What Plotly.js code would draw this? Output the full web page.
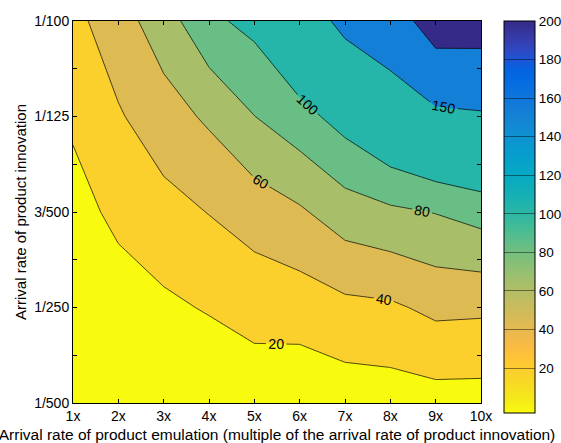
<!DOCTYPE html>
<html>
<head>
<meta charset="utf-8">
<script src="https://cdn.plot.ly/plotly-3.0.1.min.js"></script>
<style>html,body{margin:0;padding:0;background:#fff;}#chart{width:561px;height:443px;}</style>
</head>
<body>
<div id="chart"></div>
<script>
// ---- data ----
const xValues = [1, 2, 3, 4, 5, 6, 7, 8, 9, 10];
const xTickText = ['1x', '2x', '3x', '4x', '5x', '6x', '7x', '8x', '9x', '10x'];
const yValues = [0.002, 0.004, 0.006, 0.008, 0.01];
const yTickVals = [0.002, 0.003, 0.004, 0.005, 0.006, 0.007, 0.008, 0.009, 0.01];
const yTickText = ['1/500', '', '1/250', '', '3/500', '', '1/125', '', '1/100'];
// z rows follow yValues (bottom to top), columns follow xValues
const zRow0002 = [-3.0, -2.0, -0.6, 2.8, 7.7, 5.2, 8.8, 10.0, 12.0, 11.8];
const zRow0004 = [2.0, 10.9, 16.3, 21.6, 27.4, 29.3, 35.1, 36.9, 44.6, 43.6];
const zRow0006 = [13.0, 24.5, 33.2, 40.6, 49.0, 57.3, 70.5, 76.4, 80.7, 87.8];
const zRow0008 = [23.0, 38.0, 51.4, 63.2, 79.7, 92.7, 108.4, 126.4, 141.4, 145.5];
const zRow0010 = [34.2, 51.6, 70.5, 95.8, 105.7, 129.0, 159.4, 175.5, 223.4, 222.0];
const lowLevels = [20, 40, 60, 80, 100];
const highLevels = [150, 200];
const colorbarTicks = [20, 40, 60, 80, 100, 120, 140, 160, 180, 200];
const colorMin = -3.3, colorMax = 200;

const xTitle = 'Arrival rate of product emulation (multiple of the arrival rate of product innovation)';
const yTitle = 'Arrival rate of product innovation';

// ---- colormap (parula, 64 entries) ----
const parula = [
[0.2081,0.1663,0.5292],[0.2116,0.1898,0.5777],[0.2123,0.2138,0.6270],[0.2081,0.2386,0.6771],
[0.1959,0.2645,0.7279],[0.1707,0.2919,0.7792],[0.1253,0.3242,0.8303],[0.0591,0.3598,0.8683],
[0.0117,0.3875,0.8820],[0.0060,0.4086,0.8828],[0.0165,0.4266,0.8786],[0.0329,0.4430,0.8720],
[0.0498,0.4586,0.8641],[0.0629,0.4737,0.8554],[0.0723,0.4887,0.8467],[0.0779,0.5040,0.8384],
[0.0793,0.5200,0.8312],[0.0749,0.5375,0.8263],[0.0641,0.5570,0.8240],[0.0488,0.5772,0.8228],
[0.0343,0.5966,0.8199],[0.0265,0.6137,0.8135],[0.0239,0.6287,0.8038],[0.0231,0.6418,0.7913],
[0.0228,0.6535,0.7768],[0.0267,0.6642,0.7607],[0.0384,0.6743,0.7436],[0.0590,0.6838,0.7254],
[0.0843,0.6928,0.7062],[0.1133,0.7015,0.6859],[0.1453,0.7098,0.6646],[0.1801,0.7177,0.6424],
[0.2178,0.7250,0.6193],[0.2586,0.7317,0.5954],[0.3022,0.7376,0.5712],[0.3482,0.7424,0.5473],
[0.3953,0.7459,0.5244],[0.4420,0.7481,0.5033],[0.4871,0.7491,0.4840],[0.5300,0.7491,0.4661],
[0.5709,0.7485,0.4494],[0.6099,0.7473,0.4337],[0.6473,0.7456,0.4188],[0.6834,0.7435,0.4044],
[0.7184,0.7411,0.3905],[0.7525,0.7384,0.3768],[0.7858,0.7356,0.3633],[0.8185,0.7327,0.3498],
[0.8507,0.7299,0.3360],[0.8824,0.7274,0.3217],[0.9139,0.7258,0.3063],[0.9450,0.7261,0.2886],
[0.9739,0.7314,0.2666],[0.9938,0.7455,0.2403],[0.9990,0.7653,0.2164],[0.9955,0.7861,0.1967],
[0.9880,0.8066,0.1794],[0.9789,0.8271,0.1633],[0.9697,0.8481,0.1475],[0.9626,0.8705,0.1309],
[0.9589,0.8949,0.1132],[0.9598,0.9218,0.0948],[0.9661,0.9514,0.0755],[0.9763,0.9831,0.0538]];

function parulaAt(t) {
  t = Math.max(0, Math.min(1, t));
  const p = t * (parula.length - 1);
  const i = Math.min(parula.length - 2, Math.floor(p));
  const f = p - i;
  const c = parula[i].map((v, k) => v + (parula[i + 1][k] - v) * f);
  return 'rgb(' + c.map(v => Math.round(v * 255)).join(',') + ')';
}
// reversed parula: low values yellow, high values dark blue
function colorForValue(v) {
  return parulaAt(1 - (v - colorMin) / (colorMax - colorMin));
}

const zGrid = [zRow0002, zRow0004, zRow0006, zRow0008, zRow0010];

// fill colour of each band, taken from the colormap near its lower level
const bandShift = v => (v <= 20 ? -2 : 3);
const lowBandColors = [colorForValue(colorMin)].concat(lowLevels.map(v => colorForValue(v + bandShift(v))));
const lowScale = lowBandColors.map((c, k) => [k / (lowBandColors.length - 1), c]);
const highScale = [[0, 'rgba(255,255,255,0)']].concat(
  highLevels.map((v, k) => [(k + 1) / highLevels.length, colorForValue(v + bandShift(v))]));

// continuous colorbar scale
const cbScale = [];
for (let k = 0; k <= 40; k++) {
  const t = k / 40;
  cbScale.push([t, parulaAt(1 - t)]);
}

const FONT = 'Liberation Sans, Arial, Helvetica, sans-serif';
const lineStyle = {color: '#000', width: 0.7, smoothing: 0};

const flatX = [], flatY = [], flatZ = [];
zGrid.forEach((row, r) => row.forEach((v, c) => { flatX.push(xValues[c]); flatY.push(yValues[r]); flatZ.push(v); }));

const traces = [
  {
    type: 'scatter', mode: 'markers', x: flatX, y: flatY,
    marker: {
      color: flatZ, colorscale: cbScale, cmin: colorMin, cmax: colorMax, opacity: 0, size: 1,
      showscale: true,
      colorbar: {
        x: 1.057, xanchor: 'left', y: 1, yanchor: 'top',
        thickness: 31, thicknessmode: 'pixels', len: 392, lenmode: 'pixels',
        xpad: 0, ypad: 0, outlinewidth: 1, outlinecolor: '#000',
        tickvals: colorbarTicks, ticks: 'inside', ticklen: 31, tickwidth: 1,
        tickcolor: 'rgba(0,0,0,0.45)', tickfont: {family: FONT, size: 13.5, color: '#000'}
      }
    },
    hoverinfo: 'skip', showlegend: false
  },
  {
    type: 'contour', x: xValues, y: yValues, z: zGrid,
    autocontour: false,
    contours: {
      start: lowLevels[0], end: lowLevels[lowLevels.length - 1], size: lowLevels[1] - lowLevels[0],
      coloring: 'fill', showlines: true, showlabels: true,
      labelfont: {family: FONT, size: 14, color: '#000'}
    },
    colorscale: lowScale, showscale: false, line: lineStyle, hoverinfo: 'skip'
  },
  {
    type: 'contour', x: xValues, y: yValues, z: zGrid,
    autocontour: false,
    contours: {
      start: highLevels[0], end: highLevels[highLevels.length - 1], size: highLevels[1] - highLevels[0],
      coloring: 'fill', showlines: true, showlabels: true,
      labelfont: {family: FONT, size: 14, color: '#000'}
    },
    colorscale: highScale, showscale: false, line: lineStyle, hoverinfo: 'skip'
  }
];

const axisCommon = {
  showline: true, linecolor: '#000', linewidth: 1, mirror: 'ticks',
  ticks: 'inside', ticklen: 4, tickwidth: 1, tickcolor: '#000',
  showgrid: false, zeroline: false,
  tickfont: {family: FONT, size: 14, color: '#000'}
};

const layout = {
  width: 561, height: 443,
  margin: {l: 73, r: 80, t: 21, b: 40, pad: 0, autoexpand: false},
  paper_bgcolor: '#fff', plot_bgcolor: '#fff',
  font: {family: FONT, color: '#000'},
  showlegend: false,
  xaxis: Object.assign({}, axisCommon, {
    range: [xValues[0], xValues[xValues.length - 1]],
    tickmode: 'array', tickvals: xValues, ticktext: xTickText,
    title: {text: xTitle, font: {family: FONT, size: 15.5, color: '#000'}, standoff: 9}
  }),
  yaxis: Object.assign({}, axisCommon, {
    range: [yValues[0], yValues[yValues.length - 1]],
    tickmode: 'array', tickvals: yTickVals, ticktext: yTickText,
    title: {text: yTitle, font: {family: FONT, size: 15, color: '#000'}, standoff: 3}
  })
};

Plotly.newPlot('chart', traces, layout, {staticPlot: true, displayModeBar: false});
</script>
</body>
</html>
